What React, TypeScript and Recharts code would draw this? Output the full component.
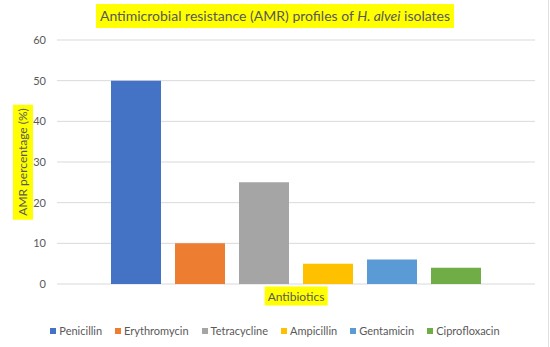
import { BarChart, Bar, XAxis, YAxis, CartesianGrid } from "recharts";

const antibiotics = ["Penicillin", "Erythromycin", "Tetracycline", "Ampicillin", "Gentamicin", "Ciprofloxacin"];
const resistance = [50, 10, 25, 5, 6, 4];
const colors = ["#4472C4", "#ED7D31", "#A5A5A5", "#FFC000", "#5B9BD5", "#70AD47"];
const yTicks = [0, 10, 20, 30, 40, 50, 60];

const row: Record<string, any> = { name: "Antibiotics" };
antibiotics.forEach((a, i) => (row[a] = resistance[i]));
const data = [row];

const font = "Lato, 'Open Sans', sans-serif";
const textColor = "#595959";
const hl = "#FFFF00";

export default function App() {
  return (
    <div style={{ position: "absolute", left: 0, top: 0, width: 550, height: 347, fontFamily: font, background: "#fff" }}>
      <BarChart width={550} height={347} data={data} margin={{ top: 40, right: 15, bottom: 63, left: 0 }} barGap={14}>
        <CartesianGrid vertical={false} stroke="#d9d9d9" />
        <XAxis dataKey="name" hide />
        <YAxis
          width={57}
          domain={[0, 60]}
          ticks={yTicks}
          axisLine={false}
          tickLine={false}
          tickSize={0}
          tickMargin={11}
          tick={{ fill: textColor, fontSize: 11, fontFamily: font }}
        />
        {antibiotics.map((a, i) => (
          <Bar key={a} dataKey={a} name={a} fill={colors[i]} barSize={50} isAnimationActive={false} />
        ))}
      </BarChart>

      <div style={{ position: "absolute", left: 0, width: 550, top: 4, textAlign: "center" }}>
        <span style={{ background: hl, color: textColor, fontSize: 14, padding: "3px 4px", lineHeight: "18px", display: "inline-block" }}>
          Antimicrobial resistance (AMR) profiles of <i>H. alvei</i> isolates
        </span>
      </div>

      <div
        style={{
          position: "absolute",
          left: 23,
          top: 162,
          transform: "translate(-50%, -50%) rotate(-90deg)",
          whiteSpace: "nowrap",
          background: hl,
          color: textColor,
          fontSize: 12,
          padding: "2px 4px",
          lineHeight: "16px",
        }}
      >
        AMR percentage (%)
      </div>

      <div
        style={{
          position: "absolute",
          left: 296,
          top: 296,
          transform: "translate(-50%, -50%)",
          whiteSpace: "nowrap",
          background: hl,
          color: textColor,
          fontSize: 12,
          padding: "1px 3px",
          lineHeight: "17px",
        }}
      >
        Antibiotics
      </div>

      <div style={{ position: "absolute", left: 0, width: 550, top: 324, display: "flex", justifyContent: "center", gap: 13, fontSize: 11, color: textColor }}>
        {antibiotics.map((a, i) => (
          <div key={a} style={{ display: "flex", alignItems: "center", gap: 3, lineHeight: "14px" }}>
            <span style={{ width: 6, height: 6, background: colors[i], display: "inline-block" }} />
            <span>{a}</span>
          </div>
        ))}
      </div>
      <div style={{ position: "absolute", right: 1, top: 0, width: 1, height: 347, background: "#e0e0e0" }} />
    </div>
  );
}
